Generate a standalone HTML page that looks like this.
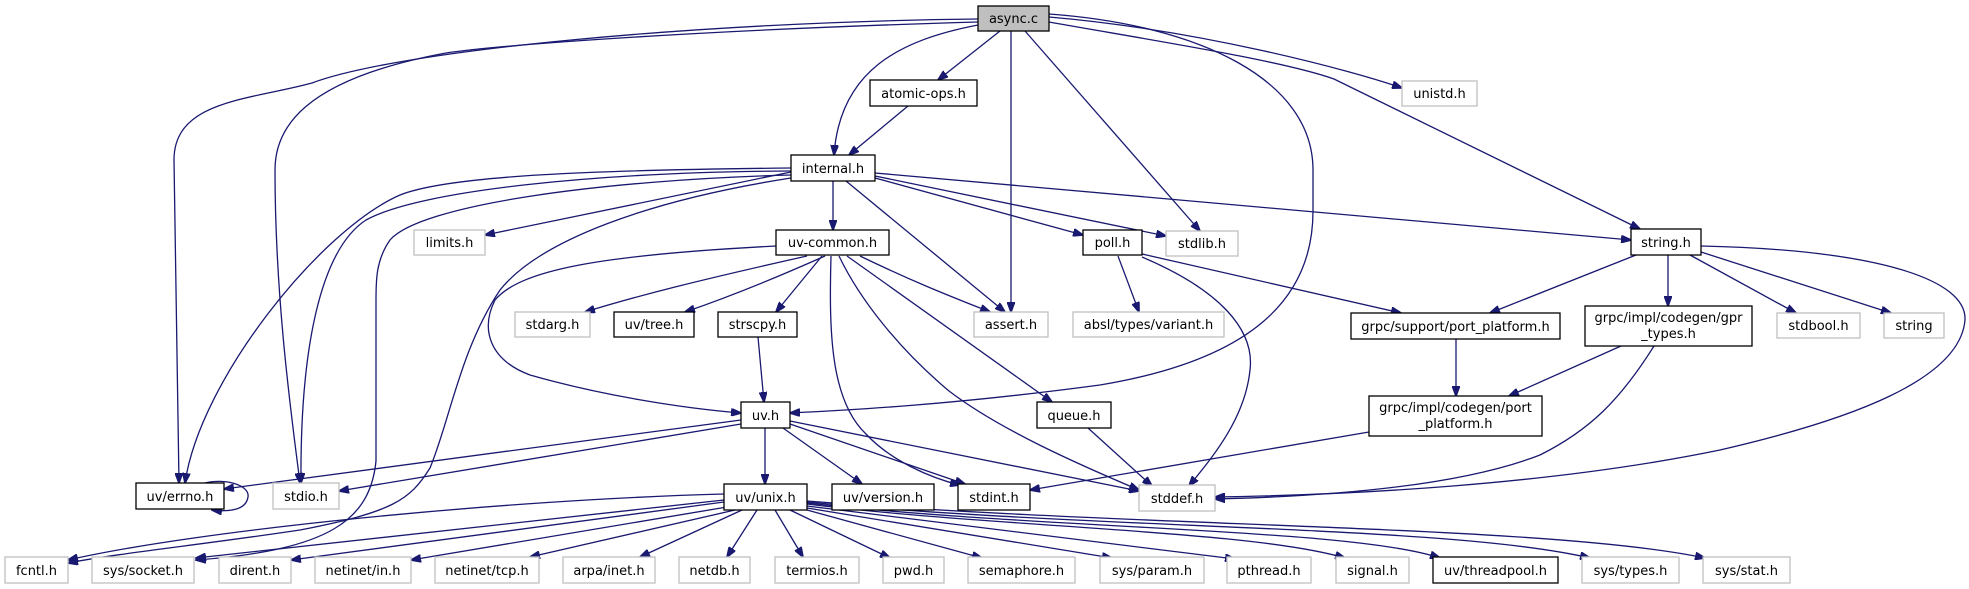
<!DOCTYPE html>
<html><head><meta charset="utf-8"><style>
html,body{margin:0;padding:0;background:#fff;}
svg{display:block;}
text{font-family:"DejaVu Sans","Liberation Sans",sans-serif;font-size:13px;fill:#000;text-anchor:middle;}
.e{fill:none;stroke:#191970;stroke-width:1.3;marker-end:url(#a);}
.n{fill:#fff;stroke:#000;stroke-width:1.3;}
.g{fill:#fff;stroke:#bfbfbf;stroke-width:1.3;}
</style></head><body>
<svg width="1969" height="589" viewBox="0 0 1969 589" xmlns="http://www.w3.org/2000/svg">
<defs><marker id="a" markerUnits="userSpaceOnUse" markerWidth="11" markerHeight="8" refX="10" refY="4" orient="auto"><path d="M0,0 L11,4 L0,8 z" fill="#191970" stroke="#191970"/></marker></defs>
<!-- edges -->
<path class="e" d="M1000,31 L938,80"/>
<path class="e" d="M978,25 C900,40 840,70 834,155"/>
<path class="e" d="M978,19 C700,22 400,50 312,83 C250,100 174,100 174,160 L179,483"/>
<path class="e" d="M978,22 C700,30 500,45 446,53 C300,80 275,130 275,170 C275,300 292,420 300,483"/>
<path class="e" d="M1011,31 L1011,312"/>
<path class="e" d="M1025,31 L1200,231"/>
<path class="e" d="M1049,14 C1200,25 1313,80 1313,170 L1313,211 C1313,300 1250,360 1100,385 C950,405 850,410 790,413"/>
<path class="e" d="M1049,17 C1200,30 1350,70 1402,88"/>
<path class="e" d="M1049,22 C1150,40 1280,60 1334,79 L1640,229"/>
<path class="e" d="M908,106 L849,155"/>
<path class="e" d="M833,181 L833,230"/>
<path class="e" d="M791,172 L485,235"/>
<path class="e" d="M846,181 L1005,312"/>
<path class="e" d="M875,178 L1083,235"/>
<path class="e" d="M875,176 L1166,236"/>
<path class="e" d="M875,173 L1631,240"/>
<path class="e" d="M791,168 C600,170 450,175 400,195 C320,230 200,380 185,483"/>
<path class="e" d="M791,171 C600,172 420,190 366,220 C320,250 300,350 301,483"/>
<path class="e" d="M791,175 C600,180 420,205 390,240 C376,260 376,280 376,300 L376,461 C370,520 330,550 196,560"/>
<path class="e" d="M791,178 C650,200 540,240 500,290 C460,350 450,420 430,468 C410,500 393,512 300,530 C200,545 120,553 68,563"/>
<path class="e" d="M776,246 C600,255 520,270 495,300 C480,330 490,360 530,375 C600,395 680,408 741,413"/>
<path class="e" d="M807,256 C700,280 640,295 585,312"/>
<path class="e" d="M825,256 C760,285 720,300 685,312"/>
<path class="e" d="M822,256 L776,312"/>
<path class="e" d="M831,256 C829,330 830,400 866,434 C890,460 930,478 960,485"/>
<path class="e" d="M839,256 C860,300 900,350 949,391 C1000,430 1080,465 1139,490"/>
<path class="e" d="M847,256 L1052,402"/>
<path class="e" d="M860,256 C920,285 960,300 990,312"/>
<path class="e" d="M1118,256 L1139,312"/>
<path class="e" d="M1142,254 L1401,313"/>
<path class="e" d="M1142,257 C1220,290 1255,330 1250,370 C1245,420 1210,460 1189,486"/>
<path class="e" d="M1636,255 L1490,313"/>
<path class="e" d="M1668,255 L1668,306"/>
<path class="e" d="M1690,255 L1796,313"/>
<path class="e" d="M1701,252 L1891,313"/>
<path class="e" d="M1701,246 C1880,250 1967,280 1965,320 C1960,380 1850,420 1720,450 C1550,485 1350,495 1215,497"/>
<path class="e" d="M1621,346 L1509,396"/>
<path class="e" d="M1654,346 C1620,400 1590,430 1540,455 C1450,490 1300,497 1215,499"/>
<path class="e" d="M1456,339 L1456,396"/>
<path class="e" d="M1369,432 L1030,490"/>
<path class="e" d="M1088,428 L1152,486"/>
<path class="e" d="M758,337 L764,402"/>
<path class="e" d="M741,420 L224,489"/>
<path class="e" d="M741,424 L339,491"/>
<path class="e" d="M765,428 L765,484"/>
<path class="e" d="M783,428 L862,484"/>
<path class="e" d="M790,424 L965,484"/>
<path class="e" d="M790,421 L1139,491"/>
<path class="e" d="M205,483 C225,478 250,485 248,497 C246,510 230,512 212,510"/>
<path class="e" d="M724,494 C500,500 200,530 68,560"/>
<path class="e" d="M724,500 L196,558"/>
<path class="e" d="M724,502 L291,560"/>
<path class="e" d="M727,507 L411,560"/>
<path class="e" d="M735,510 L530,557"/>
<path class="e" d="M742,510 L640,557"/>
<path class="e" d="M757,510 L727,557"/>
<path class="e" d="M775,510 L803,557"/>
<path class="e" d="M790,510 L890,558"/>
<path class="e" d="M807,510 L982,558"/>
<path class="e" d="M807,508 L1112,558"/>
<path class="e" d="M807,506 C1000,530 1150,548 1235,559"/>
<path class="e" d="M807,504 C1000,528 1250,530 1345,558"/>
<path class="e" d="M807,503 C1050,530 1350,528 1440,558"/>
<path class="e" d="M807,502 C1100,530 1450,525 1590,558"/>
<path class="e" d="M807,501 C1150,528 1550,525 1705,558"/>
<!-- nodes -->
<rect x="978" y="6" width="71" height="25" fill="#bfbfbf" stroke="#000" stroke-width="1.3"/><text x="1013.5" y="23">async.c</text>
<rect class="n" x="870" y="80" width="107" height="26"/><text x="923.5" y="98">atomic-ops.h</text>
<rect class="n" x="791" y="155" width="84" height="26"/><text x="833" y="173">internal.h</text>
<rect class="g" x="414" y="230" width="71" height="25"/><text x="449.5" y="247">limits.h</text>
<rect class="n" x="776" y="230" width="113" height="25"/><text x="832.5" y="247">uv-common.h</text>
<rect class="n" x="1083" y="230" width="59" height="25"/><text x="1112.5" y="247">poll.h</text>
<rect class="g" x="1166" y="231" width="72" height="25"/><text x="1202" y="248">stdlib.h</text>
<rect class="n" x="1631" y="229" width="70" height="26"/><text x="1666" y="247">string.h</text>
<rect class="g" x="1402" y="81" width="75" height="25"/><text x="1439.5" y="98">unistd.h</text>
<rect class="g" x="515" y="312" width="75" height="25"/><text x="552.5" y="329">stdarg.h</text>
<rect class="n" x="614" y="312" width="80" height="25"/><text x="654" y="329">uv/tree.h</text>
<rect class="n" x="718" y="312" width="79" height="25"/><text x="757.5" y="329">strscpy.h</text>
<rect class="g" x="974" y="312" width="74" height="25"/><text x="1011" y="329">assert.h</text>
<rect class="g" x="1073" y="312" width="151" height="25"/><text x="1148.5" y="329">absl/types/variant.h</text>
<rect class="n" x="1351" y="313" width="209" height="26"/><text x="1455.5" y="331">grpc/support/port_platform.h</text>
<rect class="n" x="1585" y="306" width="167" height="40"/><text x="1668.5" y="322">grpc/impl/codegen/gpr</text><text x="1668.5" y="338">_types.h</text>
<rect class="g" x="1777" y="313" width="83" height="25"/><text x="1818.5" y="330">stdbool.h</text>
<rect class="g" x="1884" y="313" width="60" height="25"/><text x="1914" y="330">string</text>
<rect class="n" x="741" y="402" width="49" height="26"/><text x="765.5" y="420">uv.h</text>
<rect class="n" x="1037" y="402" width="74" height="26"/><text x="1074" y="420">queue.h</text>
<rect class="n" x="1369" y="396" width="173" height="40"/><text x="1455.5" y="412">grpc/impl/codegen/port</text><text x="1455.5" y="428">_platform.h</text>
<rect class="n" x="136" y="483" width="88" height="26"/><text x="180" y="501">uv/errno.h</text>
<rect class="g" x="273" y="483" width="66" height="26"/><text x="306" y="501">stdio.h</text>
<rect class="n" x="724" y="484" width="83" height="26"/><text x="765.5" y="502">uv/unix.h</text>
<rect class="n" x="832" y="484" width="102" height="26"/><text x="883" y="502">uv/version.h</text>
<rect class="n" x="958" y="484" width="72" height="26"/><text x="994" y="502">stdint.h</text>
<rect class="g" x="1139" y="485" width="76" height="26"/><text x="1177" y="503">stddef.h</text>
<rect class="g" x="5" y="557" width="63" height="26"/><text x="36.5" y="575">fcntl.h</text>
<rect class="g" x="92" y="557" width="102" height="26"/><text x="143" y="575">sys/socket.h</text>
<rect class="g" x="219" y="557" width="72" height="26"/><text x="255" y="575">dirent.h</text>
<rect class="g" x="315" y="557" width="96" height="26"/><text x="363" y="575">netinet/in.h</text>
<rect class="g" x="435" y="557" width="104" height="26"/><text x="487" y="575">netinet/tcp.h</text>
<rect class="g" x="563" y="557" width="92" height="26"/><text x="609" y="575">arpa/inet.h</text>
<rect class="g" x="679" y="557" width="71" height="26"/><text x="714.5" y="575">netdb.h</text>
<rect class="g" x="775" y="557" width="84" height="26"/><text x="817" y="575">termios.h</text>
<rect class="g" x="883" y="557" width="61" height="26"/><text x="913.5" y="575">pwd.h</text>
<rect class="g" x="968" y="557" width="107" height="26"/><text x="1021.5" y="575">semaphore.h</text>
<rect class="g" x="1100" y="557" width="104" height="26"/><text x="1152" y="575">sys/param.h</text>
<rect class="g" x="1227" y="557" width="84" height="26"/><text x="1269" y="575">pthread.h</text>
<rect class="g" x="1336" y="557" width="73" height="26"/><text x="1372.5" y="575">signal.h</text>
<rect class="n" x="1433" y="557" width="125" height="26"/><text x="1495.5" y="575">uv/threadpool.h</text>
<rect class="g" x="1582" y="557" width="97" height="26"/><text x="1630.5" y="575">sys/types.h</text>
<rect class="g" x="1703" y="557" width="87" height="26"/><text x="1746.5" y="575">sys/stat.h</text>
</svg>
</body></html>
